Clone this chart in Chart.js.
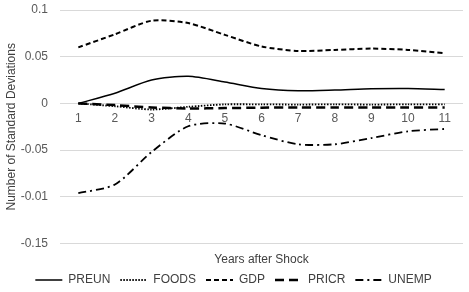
<!DOCTYPE html>
<html lang="en">
  <head>
    <meta charset="UTF-8" />
    <title>Impulse responses</title>
    <script src="https://cdn.jsdelivr.net/npm/chart.js@4.4.1/dist/chart.umd.min.js"></script>
    <style>
      html, body { margin: 0; padding: 0; background: #ffffff; }
      .chart-container { width: 469px; height: 292px; }
    </style>
  </head>
  <body>
    <div class="chart-container">
      <canvas id="irfChart"></canvas>
    </div>
    <script>
      // Years after shock
      const years = ["1", "2", "3", "4", "5", "6", "7", "8", "9", "10", "11"];

      // series
      const preun = [0, 0.011, 0.025, 0.029, 0.023, 0.016, 0.0135, 0.0143, 0.0157, 0.016, 0.015];
      const foods = [0, -0.003, -0.0065, -0.0036, -0.001, -0.001, -0.0012, -0.001, -0.0012, -0.001, -0.001];
      const gdp = [0.06, 0.074, 0.0885, 0.086, 0.0734, 0.061, 0.0562, 0.0573, 0.0587, 0.0573, 0.0538];
      const pricr = [0, -0.0018, -0.0043, -0.0054, -0.005, -0.0045, -0.0043, -0.0043, -0.0043, -0.0043, -0.0043];
      const unemp = [-0.0961, -0.0868, -0.052, -0.0244, -0.0215, -0.034, -0.0437, -0.0437, -0.037, -0.0298, -0.0273];

      // y tick labels as printed on the original (note "-0.01")
      const yTickValues = [0.1, 0.05, 0, -0.05, -0.1, -0.15];
      const yTickLabels = ["0.1", "0.05", "0", "-0.05", "-0.01", "-0.15"];

      Chart.defaults.font.family = "'Liberation Sans', Arial, sans-serif";
      Chart.defaults.font.size = 12;
      Chart.defaults.color = "#595959";

      const ctx = document.getElementById("irfChart").getContext("2d");

      const lineStyle = (label, values, dash, width) => ({
        label: label,
        data: values,
        borderColor: "#000000",
        backgroundColor: "#000000",
        borderWidth: width,
        borderDash: dash,
        pointRadius: 0,
        tension: 0.25,
        fill: false,
      });

      const irfChart = new Chart(ctx, {
        type: "line",
        data: {
          labels: years,
          datasets: [
            lineStyle("PREUN", preun, [], 1.5),
            lineStyle("FOODS", foods, [1.5, 1.5], 1.8),
            lineStyle("GDP", gdp, [5, 3], 2),
            lineStyle("PRICR", pricr, [9, 5], 2.5),
            lineStyle("UNEMP", unemp, [8, 4, 2, 4], 1.8),
          ],
        },
        options: {
          responsive: true,
          maintainAspectRatio: false,
          animation: false,
          layout: { padding: { left: 4, right: 6, top: 0, bottom: -4 } },
          scales: {
            x: {
              type: "category",
              position: { y: 0 },
              offset: true,
              grid: { display: false, drawTicks: false, tickLength: 0 },
              border: { display: false },
              ticks: { padding: 8, maxRotation: 0 },
            },
            x2: {
              type: "category",
              position: "bottom",
              labels: years,
              offset: true,
              grid: { display: false, drawTicks: false, tickLength: 0 },
              border: { display: false },
              ticks: { display: false },
              title: {
                display: true,
                text: "Years after Shock",
                color: "#404040",
                padding: { top: 9, bottom: -3 },
              },
            },
            y: {
              min: -0.15,
              max: 0.1,
              afterBuildTicks: (scale) => {
                scale.ticks = yTickValues.map((v) => ({ value: v }));
              },
              afterFit: (scale) => {
                // keep the plot area where the original has it
                scale.width = 56;
                scale.paddingTop = 10;
                scale.paddingBottom = 7;
              },
              grid: { color: "#d9d9d9", drawTicks: false },
              border: { display: false },
              ticks: {
                padding: 12,
                callback: (value) => {
                  const i = yTickValues.findIndex((v) => Math.abs(v - value) < 1e-9);
                  return i >= 0 ? yTickLabels[i] : "";
                },
              },
              title: {
                display: true,
                text: "Number of Standard Deviations",
                color: "#404040",
                padding: { top: 0, bottom: 4 },
              },
            },
          },
          plugins: {
            legend: {
              position: "bottom",
              labels: {
                usePointStyle: true,
                pointStyle: "line",
                pointStyleWidth: 27,
                padding: 10,
                color: "#404040",
                // line legend items pick up point styles, so copy the dash back in
                generateLabels: (chart) =>
                  Chart.defaults.plugins.legend.labels.generateLabels(chart).map((item) => {
                    const ds = chart.data.datasets[item.datasetIndex];
                    item.lineDash = ds.borderDash;
                    item.lineWidth = ds.borderWidth;
                    item.strokeStyle = ds.borderColor;
                    return item;
                  }),
              },
            },
            tooltip: { enabled: false },
          },
        },
      });
    </script>
  </body>
</html>
